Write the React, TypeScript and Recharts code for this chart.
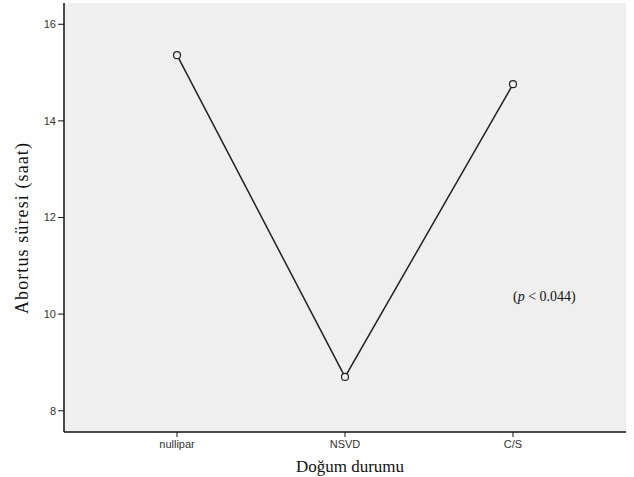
import { CartesianGrid, Line, LineChart, ReferenceDot, XAxis, YAxis } from "recharts";

const categories = ["nullipar", "NSVD", "C/S"];
const means = [15.36, 8.7, 14.76];
const yTicks = [8, 10, 12, 14, 16];

const data = categories.map((name, i) => ({ name, value: means[i] }));

const tickStyle = { fontFamily: "Liberation Sans, Arial, sans-serif", fontSize: 11, fill: "#333" };
const serif = "Liberation Serif, Times New Roman, serif";

const PLabel = ({ viewBox }: any) => {
  const { x, y } = viewBox;
  return (
    <text x={x} y={y} dy={5} fontFamily={serif} fontSize={14} fill="#111" textAnchor="start">
      (<tspan fontStyle="italic">p</tspan> &lt; 0.044)
    </text>
  );
};

const YTitle = () => (
  <text
    x={28}
    y={228}
    transform="rotate(-90, 28, 228)"
    textAnchor="middle"
    fontFamily={serif}
    fontSize={18}
    letterSpacing={1.1}
    fill="#111"
  >
    Abortus süresi (saat)
  </text>
);

const App = () => {
  return (
    <div style={{ position: "fixed", left: 0, top: 0, background: "#fff" }}>
      <LineChart width={634} height={477} data={data} margin={{ top: 3, right: 8, bottom: 0, left: 0 }}>
        <CartesianGrid fill="#efefef" horizontal={false} vertical={false} />
        <XAxis
          dataKey="name"
          height={45}
          padding={{ left: 113, right: 113 }}
          tick={tickStyle}
          tickSize={5}
          tickMargin={3}
          stroke="#111"
          axisLine={{ stroke: "#111", strokeWidth: 1.5 }}
          label={{ value: "Doğum durumu", position: "insideBottom", offset: 5, dx: 5, style: { fontFamily: serif, fontSize: 17, fill: "#111" } }}
        />
        <XAxis xAxisId="top" orientation="top" dataKey="name" height={0} tick={false} tickLine={false} axisLine={{ stroke: "#888", strokeWidth: 1.5 }} />
        <YAxis
          domain={[7.56, 16.44]}
          ticks={yTicks}
          width={64}
          tick={tickStyle}
          tickSize={6}
          tickMargin={2}
          stroke="#111"
          axisLine={{ stroke: "#111", strokeWidth: 1.5 }}
          allowDataOverflow
          label={<YTitle />}
        />
        <YAxis yAxisId="right" orientation="right" width={0} domain={[7.56, 16.44]} tick={false} tickLine={false} axisLine={{ stroke: "#aaa" }} />
        <ReferenceDot x="C/S" y={10.37} r={0} stroke="none" label={<PLabel />} />
        <Line
          type="linear"
          dataKey="value"
          stroke="#222"
          strokeWidth={1.5}
          dot={{ r: 3.5, stroke: "#222", strokeWidth: 1.2, fill: "#efefef" }}
          activeDot={false}
          isAnimationActive={false}
        />
      </LineChart>
    </div>
  );
};

export default App;
